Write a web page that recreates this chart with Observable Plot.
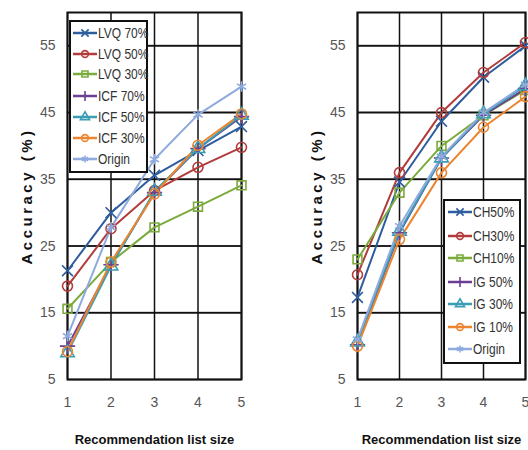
<!DOCTYPE html>
<html><head><meta charset="utf-8">
<script src="https://cdn.jsdelivr.net/npm/d3@7"></script>
<script src="https://cdn.jsdelivr.net/npm/@observablehq/plot@0.6"></script>
<style>
body{margin:0;background:#fff;}
#wrap{position:relative;width:528px;height:450px;overflow:hidden;font-family:"Liberation Sans",Arial,sans-serif;}
#wrap > svg{position:absolute;top:0;}
</style></head>
<body><div id="wrap"></div>
<script>
const sizes = [1, 2, 3, 4, 5];
const yTicks = [5, 15, 25, 35, 45, 55];
const gridLines = [15, 25, 35, 45, 55];

// Left chart
const leftSeries = ["LVQ 70%", "LVQ 50%", "LVQ 30%", "ICF 70%", "ICF 50%", "ICF 30%", "Origin"];
const lvq70 = [21.3, 30, 35.6, 39.3, 42.9];
const lvq50 = [19, 27.6, 33.3, 36.8, 39.8];
const lvq30 = [15.6, 22.6, 27.8, 30.9, 34.1];
const icf70 = [10, 22.2, 33, 39.6, 44.4];
const icf50 = [9, 22, 33.2, 39.6, 44.6];
const icf30 = [9.2, 22.6, 32.8, 40.1, 44.8];
const originL = [11.5, 27.8, 38, 44.7, 48.9];

// Right chart
const rightSeries = ["CH50%", "CH30%", "CH10%", "IG 50%", "IG 30%", "IG 10%", "Origin"];
const ch50 = [17.3, 34.6, 43.7, 50.3, 55];
const ch30 = [20.7, 36, 45, 51, 55.5];
const ch10 = [23, 33, 40, 44.6, 48.4];
const ig50 = [10.2, 27, 38.2, 44.6, 48.6];
const ig30 = [10.6, 27.2, 38.2, 44.8, 49];
const ig10 = [10, 26, 36, 42.8, 47.4];
const originR = [11, 28, 38.4, 45, 49.2];

const colors = ["#2d5d9e", "#b23c3c", "#7bab3c", "#6b3f91", "#3a9db3", "#ec8530", "#8eaade"];
const symbols = ["times", "circle", "square", "plus", "triangle", "circle", "asterisk"];

function toRows(names, arrays) {
  const rows = [];
  names.forEach((n, i) => arrays[i].forEach((v, j) => rows.push({series: n, x: sizes[j], y: v})));
  return rows;
}

function makeChart(names, arrays, marginLeft, marginRight) {
  const data = toRows(names, arrays);
  return Plot.plot({
    width: 264, height: 450,
    marginLeft, marginRight, marginTop: 12, marginBottom: 71,
    style: {fontFamily: '"Liberation Sans",Arial,sans-serif', fontSize: "14px", color: "#555", background: "transparent"},
    x: {domain: [1, 5], ticks: sizes, tickFormat: d3.format("d"), tickSize: 0, tickPadding: 18,
        label: "Recommendation list size", labelAnchor: "center", labelOffset: 64, labelArrow: "none"},
    y: {domain: [5, 60], ticks: yTicks, tickSize: 0, tickPadding: 12,
        label: "Accuracy (%)", labelAnchor: "center", labelOffset: 46, labelArrow: "none"},
    color: {domain: names, range: colors},
    symbol: {domain: names, range: symbols},
    marks: [
      Plot.ruleY(gridLines, {stroke: "#666", strokeWidth: 2}),
      Plot.frame({stroke: "#111", strokeWidth: 2}),
      Plot.tickX(sizes, {x: d => d, y1: 5, y2: 6.3, stroke: "#111", strokeWidth: 1.5}),
      Plot.tickY(yTicks, {y: d => d, x1: 1, x2: 1.06, stroke: "#111", strokeWidth: 1.5}),
      Plot.line(data, {x: "x", y: "y", z: "series", stroke: "series", strokeWidth: 2}),
      Plot.dot(data, {x: "x", y: "y", symbol: "series", stroke: "series", r: 5, strokeWidth: 1.6, fill: "none"})
    ]
  });
}

function styleAxisLabels(svg) {
  d3.select(svg).selectAll('[aria-label="x-axis label"] text')
    .attr("font-weight", "bold").attr("fill", "#111").attr("font-size", "13px");
  d3.select(svg).selectAll('[aria-label="y-axis label"] text')
    .attr("font-weight", "bold").attr("fill", "#111").attr("font-size", "15px")
    .style("letter-spacing", "3.5px");
  d3.select(svg).selectAll('[aria-label="x-axis tick label"] text, [aria-label="y-axis tick label"] text')
    .attr("fill", "#555");
}

const symMap = {times: d3.symbolTimes, circle: d3.symbolCircle, square: d3.symbolSquare,
  plus: d3.symbolPlus, triangle: d3.symbolTriangle, asterisk: d3.symbolAsterisk};

function drawLegend(g, names, box, rows, lineX0, lineX1) {
  g.append("rect").attr("x", box.x).attr("y", box.y).attr("width", box.w).attr("height", box.h)
    .attr("fill", "#fff").attr("stroke", "#111").attr("stroke-width", 2);
  names.forEach((n, i) => {
    const y = rows[i];
    g.append("line").attr("x1", lineX0).attr("x2", lineX1).attr("y1", y).attr("y2", y)
      .attr("stroke", colors[i]).attr("stroke-width", 2.5);
    g.append("path").attr("transform", `translate(${(lineX0 + lineX1) / 2},${y})`)
      .attr("d", d3.symbol(symMap[symbols[i]], 36)())
      .attr("fill", "none").attr("stroke", colors[i]).attr("stroke-width", 1.6);
    g.append("text").attr("transform", `translate(${lineX1 + 1},${y}) scale(0.8,1)`)
      .attr("dy", "0.36em").attr("font-size", 15).attr("fill", "#333")
      .attr("font-family", '"Liberation Sans",Arial,sans-serif').text(n);
  });
}

const wrap = document.getElementById("wrap");
const left = makeChart(leftSeries, [lvq70, lvq50, lvq30, icf70, icf50, icf30, originL], 67, 23);
left.style.left = "0px";
styleAxisLabels(left);
wrap.appendChild(left);

const right = makeChart(rightSeries, [ch50, ch30, ch10, ig50, ig30, ig10, originR], 93, 3);
right.style.left = "264px";
styleAxisLabels(right);
wrap.appendChild(right);

const overlay = d3.create("svg").attr("width", 528).attr("height", 450).style("left", "0px");
drawLegend(overlay.append("g"), leftSeries, {x: 70, y: 21, w: 77, h: 151},
  [33, 54, 74, 96, 117, 138, 159], 73, 97);
drawLegend(overlay.append("g"), rightSeries, {x: 444, y: 200, w: 76, h: 163},
  [212, 236, 258, 282, 304, 327, 349], 448, 472);
wrap.appendChild(overlay.node());
</script></body></html>
